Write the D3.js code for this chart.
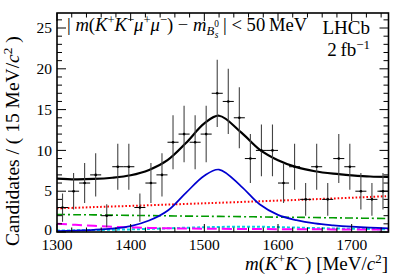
<!DOCTYPE html>
<html><head><meta charset="utf-8">
<script src="https://cdn.jsdelivr.net/npm/d3@7"></script>
<style>
body{margin:0;background:#fff}
svg{display:block}
text{font-family:"Liberation Serif","Times New Roman",serif;fill:#000}
</style>
</head><body>
<svg id="c" width="409" height="277"></svg>
<script>
// ---- data ----
const binLow = [1300,1315,1330,1345,1360,1375,1390,1405,1420,1435,1450,1465,1480,1495,1510,1525,1540,1555,1570,1585,1600,1615,1630,1645,1660,1675,1690,1705,1720,1735];
const binWidth = 15;
const counts = [3,5,6,7,2,8,8,3,6,7,11,12,11,12,17,16,14,9,10,10,6,8,4,8,4,9,8,5,4,5];

const curveMass = [1300,1325,1350,1375,1400,1425,1450,1475,1500,1520,1550,1575,1600,1625,1650,1675,1700,1725,1750];
const totalFit  = [6.55,6.45,6.5,6.65,6.95,7.6,8.8,10.9,13.3,14.25,12.2,10.1,8.8,7.95,7.45,7.15,6.95,6.8,6.75];
const signal    = [0.12,0.18,0.27,0.42,0.72,1.4,2.6,4.8,6.9,7.65,5.6,3.4,2.1,1.45,1.05,0.82,0.65,0.53,0.45];
const combBkg   = [2.9,2.97,3.05,3.13,3.2,3.28,3.36,3.44,3.52,3.58,3.68,3.76,3.85,3.93,4.02,4.11,4.2,4.3,4.4];
const nonRes    = [2.15,2.12,2.1,2.07,2.04,2.01,1.98,1.95,1.93,1.91,1.88,1.85,1.82,1.8,1.77,1.74,1.71,1.68,1.65];
const bkgMag    = [1.0,0.88,0.76,0.65,0.57,0.5,0.46,0.43,0.41,0.39,0.37,0.36,0.35,0.34,0.33,0.32,0.31,0.3,0.3];
const bkgCyan   = [0.17,0.2,0.24,0.28,0.32,0.38,0.45,0.52,0.58,0.62,0.65,0.64,0.6,0.54,0.48,0.43,0.39,0.36,0.34];

const xTicks = [1300,1400,1500,1600,1700];
const yTicks = [0,5,10,15,20,25];

// ---- layout ----
const W = 409, H = 277;
const m = {l:57, r:20.5, t:13, b:45};
const svg = d3.select("#c");
const x = d3.scaleLinear().domain([1300,1750]).range([m.l, W-m.r]);
const y = d3.scaleLinear().domain([0,26.84]).range([H-m.b, m.t]);

svg.append("clipPath").attr("id","pc").append("rect")
  .attr("x",m.l).attr("y",m.t).attr("width",W-m.l-m.r).attr("height",H-m.t-m.b);

const g = svg.append("g").attr("clip-path","url(#pc)");

function curve(vals, color, width, dash){
  const line = d3.line().x((d,i)=>x(curveMass[i])).y(d=>y(d)).curve(d3.curveCatmullRom.alpha(0.5));
  g.append("path").attr("d", line(vals)).attr("fill","none")
    .attr("stroke",color).attr("stroke-width",width)
    .attr("stroke-dasharray", dash || null);
}
curve(bkgCyan, "#00d0e0", 2, "3,2");
curve(bkgMag, "#ff00ff", 2, "10,5");
curve(nonRes, "#009a00", 1.6, "8,3,2,3");
curve(combBkg, "#ff0000", 2, "1.6,2");
curve(signal, "#0000d0", 1.7);
curve(totalFit, "#000", 2.2);

// data points
const pts = g.append("g");
counts.forEach((n,i)=>{
  const xc = x(binLow[i] + binWidth/2);
  const e = Math.sqrt(n);
  pts.append("line").attr("x1",xc).attr("x2",xc).attr("y1",y(n-e)).attr("y2",y(n+e))
    .attr("stroke","#444").attr("stroke-width",1.1);
  pts.append("line").attr("x1",x(binLow[i])).attr("x2",x(binLow[i]+binWidth)).attr("y1",y(n)).attr("y2",y(n))
    .attr("stroke","#000").attr("stroke-width",1);
  pts.append("circle").attr("cx",xc).attr("cy",y(n)).attr("r",1.3).attr("fill","#000");
});

// frame & ticks
const ax = svg.append("g").attr("stroke","#000").attr("fill","none");
const y0 = H-m.b, y1 = m.t, x0 = m.l, x1 = W-m.r;
for(let v=1300; v<=1750; v+=20){
  const major = (v%100===0);
  const L = major?8:4.5;
  ax.append("line").attr("x1",x(v)).attr("x2",x(v)).attr("y1",y0).attr("y2",y0-L).attr("stroke-width",1);
  ax.append("line").attr("x1",x(v)).attr("x2",x(v)).attr("y1",y1).attr("y2",y1+L).attr("stroke-width",1);
}
for(let v=0; v<=26; v+=1){
  const major = (v%5===0);
  const L = major?9:5;
  ax.append("line").attr("x1",x0).attr("x2",x0+L).attr("y1",y(v)).attr("y2",y(v)).attr("stroke-width",1);
  ax.append("line").attr("x1",x1).attr("x2",x1-L).attr("y1",y(v)).attr("y2",y(v)).attr("stroke-width",1);
}
ax.append("rect").attr("x",x0).attr("y",y1).attr("width",x1-x0).attr("height",y0-y1).attr("stroke-width",1.6);

// tick labels
xTicks.forEach(v=>{
  svg.append("text").attr("x",x(v)).attr("y",249.5).attr("text-anchor","middle")
    .attr("font-size",15.5).text(v);
});
yTicks.forEach(v=>{
  svg.append("text").attr("x",52).attr("y",y(v)).attr("dy", v===0 ? "0.2em" : "0.33em").attr("text-anchor","end")
    .attr("font-size",15.5).text(v);
});

// rich text helper
function rich(t, parts, base){
  let off = 0;
  parts.forEach(p=>{
    const [s, st] = p;
    const o = st || {};
    let target = 0, fs = base;
    if(o.sup){ target = -base*0.38; fs = base*0.68; }
    if(o.sub){ target = base*0.22; fs = base*0.68; }
    if(o.sup2){ target = -base*0.22; fs = base*0.5; }
    if(o.sub2){ target = base*0.38; fs = base*0.5; }
    const ts = t.append("tspan").attr("dy", target-off).attr("font-size",fs).text(s);
    if(o.i) ts.attr("font-style","italic");
    if(o.dx) ts.attr("dx",o.dx);
    off = target;
  });
}

// axis titles
const xl = svg.append("text").attr("x",388).attr("y",270).attr("text-anchor","end").attr("font-size",19);
rich(xl, [["m",{i:1}],["("],["K",{i:1}],["+",{sup:1}],["K",{i:1}],["\u2212",{sup:1}],[")",{}],[" [MeV/"],["c",{i:1}],["2",{sup:1}],["]"]], 19);

const yl = svg.append("text").attr("transform","translate(19,246) rotate(-90)").attr("text-anchor","start").attr("font-size",19.5);
rich(yl, [["Candidates / ( 15 MeV/"],["c",{i:1}],["2",{sup:1}],[" )"]], 19.5);

// legend text
const lt = svg.append("text").attr("x",67).attr("y",31).attr("font-size",18.6);
rich(lt, [["| "],["m",{i:1}],["("],["K",{i:1}],["+",{sup:1}],["K",{i:1}],["\u2212",{sup:1}],["\u03bc",{i:1}],["+",{sup:1}],["\u03bc",{i:1}],["\u2212",{sup:1}],[") \u2212 "],["m",{i:1}],["B",{sub:1,i:1}],["0",{sup2:1}],["s",{sub2:1,i:1,dx:-4}],[" | < 50\u2009MeV"]], 18.6);

svg.append("text").attr("x",370).attr("y",34).attr("text-anchor","end").attr("font-size",19).text("LHCb");
const fb = svg.append("text").attr("x",370).attr("y",56).attr("text-anchor","end").attr("font-size",19);
rich(fb, [["2\u2009fb"],["\u22121",{sup:1}]], 19);
</script>
</body></html>
